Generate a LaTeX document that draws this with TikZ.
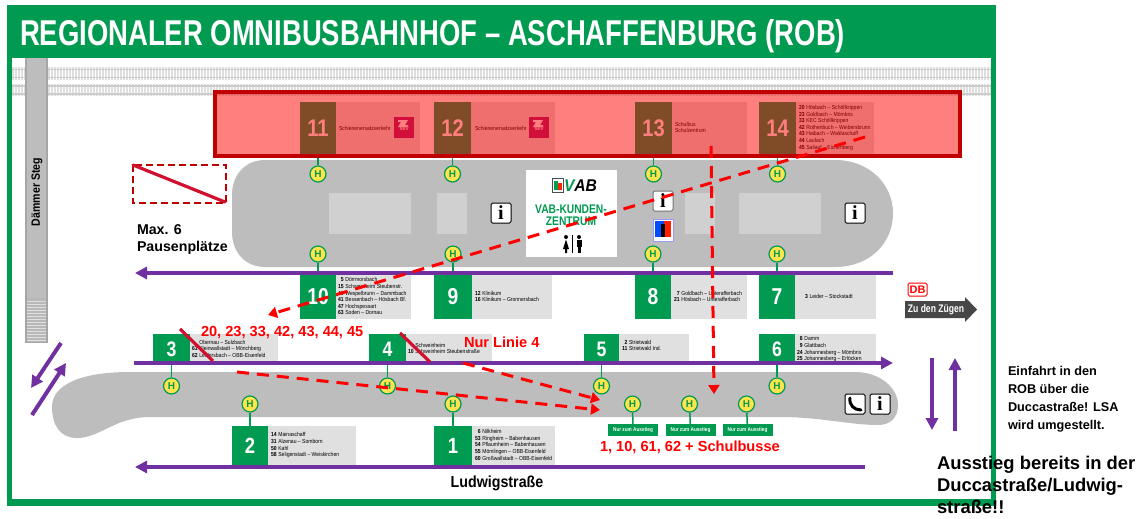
\documentclass[tikz,border=0pt]{standalone}
\usepackage{fontspec}
\usepackage{array}
\setmainfont{Liberation Sans}
\newfontfamily\serifi{Liberation Serif}
\usetikzlibrary{arrows.meta}
\definecolor{vabgreen}{HTML}{009A50}
\definecolor{lila}{HTML}{7030A0}
\definecolor{insel}{HTML}{BDBDBD}
\definecolor{feld}{HTML}{D0D0D0}
\definecolor{tafel}{HTML}{E0E0E0}
\definecolor{yell}{HTML}{FFE44D}
\definecolor{dunkelrot}{HTML}{C00000}
\definecolor{sperr}{HTML}{D0102E}
\definecolor{sevrot}{HTML}{A52078}
\tikzset{
  baybox/.style={fill=vabgreen,text=white,inner sep=0pt,outer sep=0pt,font=\bfseries},
  haltestelle/.style={circle,fill=yell,draw=vabgreen,line width=1.2pt,minimum size=16pt,inner sep=0pt,text=vabgreen,font=\fontsize{10}{10}\selectfont\bfseries},
  stem/.style={draw=vabgreen,line width=1.5pt},
  fahrweg/.style={draw=lila,line width=4pt},
  fahrpfeil/.style={draw=lila,line width=4pt,-{Triangle[length=12pt,width=12pt]}},
  umleitung/.style={draw=red,line width=3pt,dash pattern=on 12pt off 8pt,-{Triangle[length=9pt,width=11pt]}},
  sperre/.style={draw=sperr,line width=3.2pt},
  lbl/.style={inner sep=0pt,outer sep=0pt},
  infobox/.style={draw=black,line width=1pt,fill=white,rounded corners=1.5pt,minimum size=20pt,inner sep=0pt,font=\serifi\fontsize{20}{20}\selectfont\bfseries},
  ausstieg/.style={fill=vabgreen,text=white,minimum width=50pt,minimum height=12pt,inner sep=0pt,font=\fontsize{5.5}{6}\selectfont\bfseries},
  redlbl/.style={lbl,text=red,font=\fontsize{14.6}{14.6}\selectfont\bfseries},
  blk/.style={lbl,anchor=north west,align=left,font=\bfseries}
}
\newcommand{\rpanel}[4]{\fill[tafel] (#1,#2) rectangle (#3,#4);}
\newcommand{\rbay}[7]{\node[baybox,minimum width=#4pt,minimum height=#5pt,font=\fontsize{#7}{#7}\selectfont\bfseries] (b#1) at (#2,#3) {\scalebox{0.84}[1]{#6}};}
\newcommand{\rstop}[3]{\node[haltestelle] (h#1) at (#2,#3) {H};}
\newcommand{\rrows}[4]{\node[lbl,anchor=west] (#3) at (#1,#2) {\fontsize{5.8}{6.65}\selectfont\scalebox{0.87}[1]{\begin{tabular}{@{}>{\bfseries}r@{\hspace{2pt}}l@{}}#4\end{tabular}}};}
\begin{document}
\begin{tikzpicture}[x=1pt,y=-1pt]
\useasboundingbox (0,0) rectangle (1143,519);
\fill[white] (0,0) rectangle (1143,519);
% frame
\fill[vabgreen] (7,5) rectangle (996,506);
\fill[white] (12,58) rectangle (991,499);
\node[lbl,anchor=base west,text=white] (titel) at (20,46) {\resizebox{825pt}{26pt}{\bfseries REGIONALER OMNIBUSBAHNHOF – ASCHAFFENBURG (ROB)}};
% tracks
\foreach \yy in {73.5,90}{
  \draw[line width=12pt,draw=black!13,dash pattern=on 1.5pt off 1.5pt] (12,\yy) -- (991,\yy);
  \draw[line width=1.2pt,draw=black!20] (12,\yy-4) -- (991,\yy-4);
  \draw[line width=1.2pt,draw=black!20] (12,\yy+4) -- (991,\yy+4);
}
% footbridge
\fill[black!35] (25,58) rectangle (48,343);
\fill[insel] (27,58) rectangle (46,298);
\fill[black!28] (27,298) rectangle (46,342);
\foreach \yy in {301,304,...,340}{\draw[line width=.6pt,draw=black!12] (27,\yy) -- (46,\yy);}
\node[lbl,rotate=90,text=black] (steg) at (37,192) {\scalebox{0.88}[1]{\fontsize{12}{12}\selectfont\bfseries Dämmer Steg}};
% islands
\fill[insel] (265,160) -- (835,160) .. controls (870,160) and (893,185) .. (893,213) .. controls (893,243) and (870,267) .. (835,267) -- (265,267) .. controls (245,267) and (232,252) .. (232,232) -- (232,195) .. controls (232,175) and (245,160) .. (265,160) -- cycle;
\fill[insel] (130,372) -- (855,372) .. controls (880,372) and (898,388) .. (898,405) .. controls (898,418) and (890,425) .. (878,425) .. controls (850,425) and (820,417) .. (780,417) -- (150,417) .. controls (115,417) and (100,438) .. (77,438) .. controls (60,438) and (52,425) .. (52,407) .. controls (52,385) and (80,372) .. (130,372) -- cycle;
\foreach \xa/\xb in {329/411,437/467,685/715,739/821}{\fill[feld] (\xa,193) rectangle (\xb,234);}
% panels
\rpanel{336}{102}{420}{154}
\rpanel{471}{102}{555}{154}
\rpanel{672}{102}{747}{154}
\rpanel{796}{102}{874}{154}
\rpanel{336}{275}{411}{319}
\rpanel{472}{275}{552}{319}
\rpanel{671}{275}{747}{319}
\rpanel{795}{275}{876}{319}
\rpanel{190}{334}{278}{365}
\rpanel{406}{334}{492}{365}
\rpanel{619}{334}{689}{365}
\rpanel{795}{334}{876}{365}
\rpanel{268}{426}{356}{465}
\rpanel{472}{426}{555}{465}
% bays
\rbay{11}{318}{128}{36}{52}{11}{24}
\rbay{12}{452.5}{128}{37}{52}{12}{24}
\rbay{13}{653.5}{128}{37}{52}{13}{24}
\rbay{14}{777.5}{128}{37}{52}{14}{24}
\rbay{10}{318}{297}{36}{44}{10}{23}
\rbay{9}{453}{297}{38}{44}{9}{23}
\rbay{8}{653}{297}{36}{44}{8}{23}
\rbay{7}{777}{297}{36}{44}{7}{23}
\rbay{3}{171.5}{349.5}{37}{31}{3}{21}
\rbay{4}{387.5}{349.5}{37}{31}{4}{21}
\rbay{5}{601.5}{349.5}{35}{31}{5}{21}
\rbay{6}{777}{349.5}{36}{31}{6}{21}
\rbay{2}{250}{445.5}{36}{39}{2}{22}
\rbay{1}{453}{445.5}{38}{39}{1}{22}
% bay texts
\node[lbl,anchor=west] (t11) at (339,128) {\fontsize{5.8}{6.6}\selectfont\scalebox{0.87}[1]{Schienenersatzverkehr}};
\node[lbl,anchor=west] (t12) at (475,128) {\fontsize{5.8}{6.6}\selectfont\scalebox{0.87}[1]{Schienenersatzverkehr}};
\node[lbl,anchor=west,align=left,font=\fontsize{5.8}{6.8}\selectfont] (t13) at (675,127.5) {\scalebox{0.87}[1]{Schulbus}\\\scalebox{0.87}[1]{Schulzentrum}};
\rrows{799}{128}{t14}{20&Hösbach – Schöllkrippen\\23&Goldbach – Mömbris\\33&KEC Schöllkrippen\\42&Rothenbuch – Weibersbrunn\\43&Haibach – Waldaschaff\\44&Laufach\\45&Sailauf – Eichenberg}
\rrows{338}{297}{t10}{5&Dörrmorsbach\\15&Schweinheim Steubenstr.\\40&Wespelbrunn – Dammbach\\41&Bessenbach – Hösbach Bf.\\47&Hochspessart\\63&Soden – Dornau}
\rrows{475}{297}{t9}{12&Klinikum\\16&Klinikum – Gronnersbach}
\rrows{674}{297}{t8}{7&Goldbach – Unterafferbach\\21&Hösbach – Unterafferbach}
\rrows{805}{297}{t7}{3&Leider – Stockstadt}
\rrows{192}{349.5}{t3}{&Obernau – Sulzbach\\61&Kleinwallstadt – Mönchberg\\62&Leidersbach – OBB-Eisenfeld}
\rrows{408}{349}{t4}{&Schweinheim\\10&Schweinheim Steubenstraße}
\rrows{622}{346}{t5}{2&Strietwald\\11&Strietwald Ind.}
\rrows{797}{349.5}{t6}{8&Damm\\9&Glattbach\\24&Johannesberg – Mömbris\\25&Johannesberg – Erlöcken}
\rrows{271}{445.5}{t2}{14&Mainaschaff\\31&Alzenau – Somborn\\50&Kahl\\58&Seligenstadt – Weiskirchen}
\rrows{475}{445.5}{t1}{6&Nilkheim\\53&Ringheim – Babenhausen\\54&Pflaumheim – Babenhausen\\55&Mömlingen – OBB-Eisenfeld\\60&Großwallstadt – OBB-Eisenfeld}
% SEV logos
\foreach \sx/\sn in {404/a,539/b}{
  \node[lbl,fill=sevrot,minimum width=20pt,minimum height=21pt,text=white,font=\fontsize{4.5}{5}\selectfont\bfseries] (sev\sn) at (\sx,127.5) {\raisebox{-6pt}{SEV}};
  \fill[white] (\sx-6,120) -- (\sx+4,120) -- (\sx+1,125) -- (\sx+4,125) -- (\sx+4,127) -- (\sx-6,127) -- (\sx-3,122) -- (\sx-6,122) -- cycle;
}
% stops
\rstop{11}{318}{174}\rstop{12}{452.5}{174}\rstop{13}{653.5}{174}\rstop{14}{777.5}{174}
\rstop{10}{318}{254}\rstop{9}{453}{254}\rstop{8}{653}{254}\rstop{7}{777}{254}
\rstop{3}{171.5}{386}\rstop{4}{387.5}{386}\rstop{5}{601.5}{386}\rstop{6}{777}{386}
\rstop{2}{250}{404}\rstop{1}{453}{404}
\rstop{a}{632.5}{404}\rstop{b}{689.5}{404}\rstop{c}{746.5}{404}
\foreach \n in {1,...,14}{\draw[stem] (h\n) -- (b\n);}
% exit-only tags
\node[ausstieg] (ta) at (633,430) {\scalebox{0.85}[1]{Nur zum Ausstieg}};
\node[ausstieg] (tb) at (690.5,430) {\scalebox{0.85}[1]{Nur zum Ausstieg}};
\node[ausstieg] (tc) at (747.5,430) {\scalebox{0.85}[1]{Nur zum Ausstieg}};
\draw[stem] (ha) -- (ta); \draw[stem] (hb) -- (tb); \draw[stem] (hc) -- (tc);
% customer centre
\fill[white] (526,170) rectangle (617,257);
\draw[black!70,line width=.5pt] (552.5,178) rectangle (563,192);
\fill[vabgreen] (554,181) rectangle (558,190);
\fill[red!70!orange] (558,183) rectangle (561.5,190);
\node[lbl,anchor=west] (vabtxt) at (564,186) {\fontsize{17}{17}\selectfont\bfseries\itshape\scalebox{0.92}[1]{\textcolor{vabgreen}{V}AB}};
\node[lbl,text=vabgreen,align=center] (vabk) at (571,209.5) {\scalebox{0.82}[1]{\fontsize{12.5}{12.5}\selectfont\bfseries VAB-KUNDEN-}};
\node[lbl,text=vabgreen,align=center] (vabz) at (571,221) {\scalebox{0.82}[1]{\fontsize{12.5}{12.5}\selectfont\bfseries ZENTRUM}};
\draw[black,line width=.5pt] (572.5,235) -- (572.5,253);
\fill[black] (566,237) circle (2);
\fill[black] (566,239.5) -- (563,249) -- (565,249) -- (565,253) -- (567,253) -- (567,249) -- (569,249) -- cycle;
\fill[black] (579,237) circle (2);
\fill[black] (576.5,239.5) rectangle (581.5,247);
\fill[black] (577.5,247) rectangle (580.5,253);
% icons
\node[infobox] (i1) at (501,213) {i};
\node[infobox,fill=white,draw=black!55] (i2) at (663,201) {i};
\node[infobox] (i3) at (855,213) {i};
\node[infobox] (i4) at (880,404) {i};
\node[infobox] (tel) at (855,404) {};
\draw[black,line width=3pt,line cap=round] (850,398) .. controls (849,405) and (854,410) .. (861,410);
% ec sign
\fill[white] (653,219) rectangle (673,241);
\draw[blue!40,line width=.7pt] (653,219) rectangle (673,241);
\fill[blue!70!cyan] (655,221) rectangle (664,237);
\fill[red!75!orange] (664,221) rectangle (671,237);
\fill[black] (661,224) rectangle (665,237);
% purple roads
\coordinate (p1a) at (893,273); \coordinate (p1b) at (135,273);
\coordinate (p2a) at (134,363); \coordinate (p2b) at (893,363);
\coordinate (p3a) at (865,467); \coordinate (p3b) at (135,467);
\coordinate (p4a) at (61,343); \coordinate (p4b) at (31,388);
\coordinate (p5a) at (32,415); \coordinate (p5b) at (66,363);
\coordinate (p6a) at (932,358); \coordinate (p6b) at (932,430);
\coordinate (p7a) at (955,431); \coordinate (p7b) at (955,358);
\draw[fahrpfeil] (p1a) -- (p1b);
\draw[fahrpfeil] (p2a) -- (p2b);
\draw[fahrpfeil] (p3a) -- (p3b);
\draw[fahrpfeil] (p4a) -- (p4b);
\draw[fahrpfeil] (p5a) -- (p5b);
\draw[fahrpfeil] (p6a) -- (p6b);
\draw[fahrpfeil] (p7a) -- (p7b);
% closed bays overlay
\fill[red,fill opacity=.5] (213,90) rectangle (961,158);
\draw[dunkelrot,line width=4pt] (215,92) rectangle (959.5,156);
% closed lay-by
\draw[dunkelrot,line width=2.5pt,dash pattern=on 7pt off 4pt] (133,165) rectangle (226,203);
\coordinate (x1a) at (133,165); \coordinate (x1b) at (225,202);
\draw[sperr,line width=3.2pt,line cap=round] (x1a) -- (x1b);
\node[blk,font=\fontsize{14.2}{17}\selectfont\bfseries] (pause) at (137,225) {Max. 6\\Pausenplätze};
% strike lines
\coordinate (x2a) at (180,329); \coordinate (x2b) at (213,361);
\coordinate (x3a) at (400,333); \coordinate (x3b) at (430,362);
\draw[sperre] (x2a) -- (x2b);
\draw[sperre] (x3a) -- (x3b);
% diversions
\coordinate (d1a) at (865,137); \coordinate (d1b) at (268,315);
\coordinate (d2a) at (711,146); \coordinate (d2b) at (714,394);
\coordinate (d3a) at (237,372); \coordinate (d3b) at (600,410);
\coordinate (d4a) at (463,363); \coordinate (d4b) at (600,400);
\draw[umleitung] (d1a) -- (d1b);
\draw[umleitung] (d2a) -- (d2b);
\draw[umleitung] (d3a) -- (d3b);
\draw[umleitung] (d4a) -- (d4b);
% red labels
\node[redlbl,anchor=west] (r1) at (201,333) {20, 23, 33, 42, 43, 44, 45};
\node[redlbl,anchor=west] (r2) at (464,342) {Nur Linie 4};
\node[redlbl,anchor=west] (r3) at (600,447) {1, 10, 61, 62 + Schulbusse};
% Ludwigstrasse
\node[lbl] (lud) at (497,483) {\scalebox{0.89}[1]{\fontsize{16}{16}\selectfont\bfseries Ludwigstraße}};
% DB and trains
\node[lbl,draw=red,line width=1pt,fill=white,rounded corners=1.5pt,minimum width=19pt,minimum height=13pt,text=red,font=\fontsize{11}{11}\selectfont\bfseries] (db) at (917.5,289.5) {DB};
\fill[black!72] (905,301) -- (965,301) -- (965,297) -- (977,309.5) -- (965,322) -- (965,318) -- (905,318) -- cycle;
\node[lbl,text=white] (zug) at (936,310) {\scalebox{0.78}[1]{\fontsize{11}{11}\selectfont\bfseries Zu den Zügen}};
% notes
\node[blk,font=\fontsize{12.7}{18}\selectfont\bfseries] (n1) at (1008,366) {Einfahrt in den\\ROB über die\\Duccastraße! LSA\\wird umgestellt.};
\node[blk,font=\fontsize{18.4}{22}\selectfont\bfseries] (n2) at (937,456) {Ausstieg bereits in der\\Duccastraße/Ludwig-\\straße!!};
\end{tikzpicture}
\end{document}
